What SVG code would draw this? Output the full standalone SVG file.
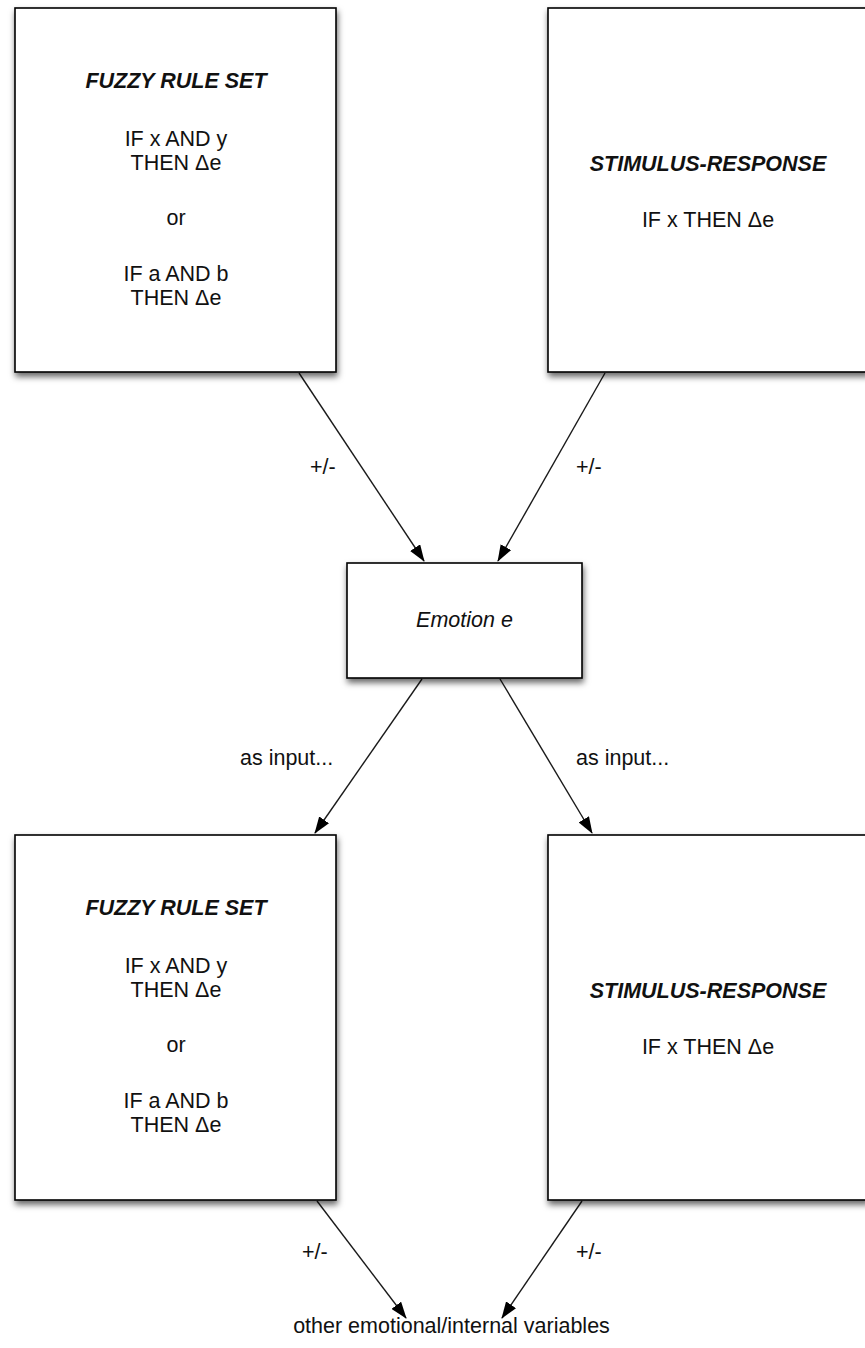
<svg xmlns="http://www.w3.org/2000/svg" width="865" height="1348" viewBox="0 0 865 1348">
  <style>
    .box { fill: #ffffff; stroke: #000000; stroke-width: 1.6; filter: url(#shadow); }
    .t { font-family: "Liberation Sans", Arial, Helvetica, sans-serif; font-size: 21.5px; fill: #111111; text-anchor: middle; }
    .title { font-weight: bold; font-style: italic; }
    .it { font-style: italic; }
    .edge { fill: none; stroke: #1a1a1a; stroke-width: 1.4; marker-end: url(#arrow); }
    .lbl { font-family: "Liberation Sans", Arial, Helvetica, sans-serif; font-size: 21.5px; fill: #111111; }
  </style>
  <defs>
    <filter id="shadow" x="-10%" y="-10%" width="130%" height="130%">
      <feDropShadow dx="1" dy="4" stdDeviation="3" flood-color="#000000" flood-opacity="0.6"/>
    </filter>
    <marker id="arrow" markerWidth="17" markerHeight="12" refX="16" refY="6" orient="auto" markerUnits="userSpaceOnUse">
      <path d="M0,0 L17,6 L0,12 Z" fill="#000000"/>
    </marker>
  </defs>
  <rect width="865" height="1348" fill="#ffffff"/>

  <!-- connectors -->
  <g id="connectors">
    <line class="edge" x1="299" y1="373" x2="424" y2="561"/>
    <line class="edge" x1="605" y1="373" x2="498" y2="561"/>
    <line class="edge" x1="422" y1="679" x2="315" y2="833"/>
    <line class="edge" x1="500" y1="679" x2="592" y2="833"/>
    <line class="edge" x1="317" y1="1201" x2="406" y2="1318"/>
    <line class="edge" x1="582" y1="1201" x2="502" y2="1318"/>
    <text class="lbl" x="310" y="474">+/-</text>
    <text class="lbl" x="576" y="474">+/-</text>
    <text class="lbl" x="240" y="765">as input...</text>
    <text class="lbl" x="576" y="765">as input...</text>
    <text class="lbl" x="302" y="1259">+/-</text>
    <text class="lbl" x="576" y="1259">+/-</text>
  </g>

  <!-- upper fuzzy rule set -->
  <g id="fuzzy-top">
    <rect class="box" x="15" y="8" width="321" height="364"/>
    <text class="t title" x="176" y="88">FUZZY RULE SET</text>
    <text class="t" x="176" y="146">IF x AND y</text>
    <text class="t" x="176" y="170">THEN Δe</text>
    <text class="t" x="176" y="225">or</text>
    <text class="t" x="176" y="281">IF a AND b</text>
    <text class="t" x="176" y="305">THEN Δe</text>
  </g>

  <!-- upper stimulus-response -->
  <g id="stimulus-top">
    <rect class="box" x="548" y="8" width="320" height="364"/>
    <text class="t title" x="708" y="171">STIMULUS-RESPONSE</text>
    <text class="t" x="708" y="227">IF x THEN Δe</text>
  </g>

  <!-- emotion -->
  <g id="emotion">
    <rect class="box" x="347" y="563" width="235" height="115"/>
    <text class="t it" x="464.5" y="627">Emotion e</text>
  </g>

  <!-- lower fuzzy rule set -->
  <g id="fuzzy-bottom">
    <rect class="box" x="15" y="835" width="321" height="365"/>
    <text class="t title" x="176" y="915">FUZZY RULE SET</text>
    <text class="t" x="176" y="973">IF x AND y</text>
    <text class="t" x="176" y="997">THEN Δe</text>
    <text class="t" x="176" y="1052">or</text>
    <text class="t" x="176" y="1108">IF a AND b</text>
    <text class="t" x="176" y="1132">THEN Δe</text>
  </g>

  <!-- lower stimulus-response -->
  <g id="stimulus-bottom">
    <rect class="box" x="548" y="835" width="320" height="365"/>
    <text class="t title" x="708" y="998">STIMULUS-RESPONSE</text>
    <text class="t" x="708" y="1054">IF x THEN Δe</text>
  </g>

  <!-- output target -->
  <g id="other-variables">
    <text class="t" x="451.5" y="1333">other emotional/internal variables</text>
  </g>
</svg>
